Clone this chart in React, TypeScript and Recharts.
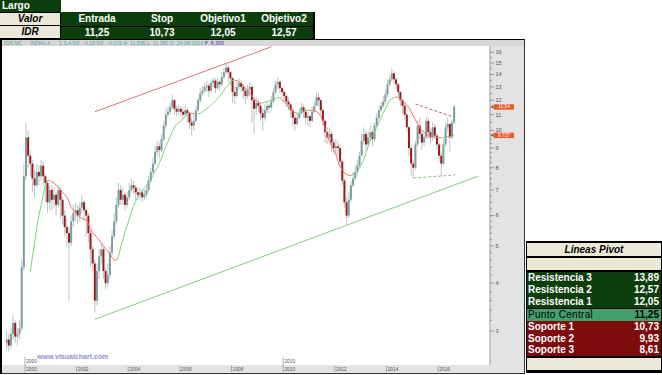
import React from 'react';
import { ComposedChart, Bar, Line, XAxis, YAxis, ReferenceLine } from 'recharts';

// ---------- data ----------
const START_YEAR = 1999;
const START_MONTH = 3; // April (0-based)
const FIRST_OPEN = 2.8;

// monthly closes, Apr 1999 .. Aug 2016
const closes = [
  2.85, 2.75, 2.95, 3.15, 2.9, 2.95, 3.05, 4.4, 7.6,
  9.6, 8.6, 8.2, 7.5, 7.2, 7.8, 7.6, 8.1, 7.6, 7.3, 6.5, 7.0,
  6.6, 6.8, 6.4, 7.0, 6.6, 6.0, 5.6, 5.4, 5.1, 5.8, 6.1, 6.2,
  6.0, 6.3, 6.5, 6.2, 6.0, 5.4, 4.9, 4.5, 3.6, 4.3, 4.7, 4.9,
  4.3, 4.0, 4.2, 4.8, 5.3, 5.8, 6.4, 7.0, 6.6, 6.8, 6.4, 6.7,
  7.0, 7.2, 7.1, 6.9, 6.8, 6.9, 6.7, 6.8, 7.0, 7.4, 7.8, 8.2,
  8.8, 9.1, 8.9, 9.5, 10.3, 11.0, 11.2, 11.5, 12.0, 11.4, 11.2, 11.4,
  11.2, 11.0, 11.3, 11.1, 10.5, 10.3, 10.6, 11.3, 12.0, 12.5, 12.7, 13.0,
  13.1, 12.7, 13.3, 13.5, 12.9, 13.4, 13.2, 13.8, 14.2, 14.6, 14.2, 13.7,
  12.6, 12.3, 13.0, 13.3, 13.0, 12.7, 12.3, 12.8, 13.0, 12.0, 11.4, 11.8,
  11.6, 11.1, 10.8, 11.3, 11.6, 11.5, 11.9, 12.6, 13.2, 13.4, 12.9, 12.6,
  12.3, 11.9, 11.7, 11.3, 10.8, 10.4, 10.8, 11.1, 11.5, 11.2, 10.8, 10.9,
  10.6, 11.2, 11.6, 12.2, 12.0, 11.3, 10.6, 9.9, 9.6, 9.8, 9.3, 9.0,
  9.1, 9.0, 8.3, 7.4, 6.5, 6.0, 6.6, 7.2, 7.5, 7.8, 8.1, 8.6,
  9.4, 9.8, 9.2, 9.6, 9.9, 9.5, 10.3, 10.8, 11.3, 11.6, 11.9, 12.4,
  13.2, 13.6, 14.1, 13.6, 13.2, 12.6, 12.0, 11.6, 11.0, 10.2, 9.0, 8.2,
  8.0, 9.2, 10.3, 9.8, 9.3, 9.6, 10.6, 9.9, 9.6, 10.2, 9.7, 9.2,
  8.6, 8.2, 9.2, 10.2, 10.4, 9.6, 10.5, 11.54,
];

const highs = [
  3.0, 2.95, 3.05, 3.3, 3.2, 3.05, 3.2, 4.6, 8.2,
  10.5, 10.0, 8.9, 8.4, 7.9, 8.2, 8.1, 8.4, 8.3, 7.7, 7.4, 7.2,
  7.2, 7.1, 6.9, 7.2, 7.1, 6.7, 6.2, 5.9, 5.6, 6.0, 6.4, 6.5,
  6.4, 6.5, 6.8, 6.6, 6.3, 6.1, 5.5, 5.0, 4.6, 4.5, 4.9, 5.1,
  5.0, 4.4, 4.5, 5.0, 5.5, 6.1, 6.7, 7.3, 7.2, 7.1, 6.9, 6.9,
  7.3, 7.5, 7.4, 7.2, 7.1, 7.1, 7.0, 7.0, 7.2, 7.6, 8.0, 8.5,
  9.1, 9.4, 9.3, 9.8, 10.6, 11.4, 11.6, 11.8, 12.4, 12.1, 11.6, 11.7,
  11.6, 11.5, 11.6, 11.5, 11.2, 10.8, 11.0, 11.6, 12.2, 12.9, 13.1, 13.3,
  13.5, 13.3, 13.6, 13.8, 13.7, 13.7, 13.6, 14.2, 14.6, 15.0, 14.8, 14.3,
  13.8, 13.0, 13.4, 13.7, 13.5, 13.2, 12.9, 13.2, 13.4, 13.2, 12.3, 12.2,
  12.1, 11.8, 11.4, 11.7, 11.9, 11.8, 12.3, 12.9, 13.5, 13.8, 13.5, 13.0,
  12.8, 12.5, 12.2, 11.8, 11.5, 11.0, 11.1, 11.4, 11.8, 11.7, 11.4, 11.2,
  11.0, 11.5, 11.9, 12.6, 12.5, 12.1, 11.4, 10.7, 10.2, 10.2, 10.0, 9.5,
  9.5, 9.4, 9.2, 8.4, 7.5, 6.7, 6.9, 7.4, 7.8, 8.1, 8.4, 8.8,
  9.8, 10.2, 10.0, 10.0, 10.3, 10.1, 10.5, 11.1, 11.6, 11.9, 12.3, 12.8,
  13.6, 13.9, 14.5, 14.3, 13.8, 13.3, 12.7, 12.1, 11.8, 11.1, 10.3, 9.2,
  8.4, 9.4, 10.6, 10.8, 10.0, 9.9, 10.9, 10.8, 10.1, 10.5, 10.4, 9.8,
  9.3, 8.8, 9.5, 10.5, 10.8, 10.5, 10.7, 11.7,
];

const lows = [
  2.7, 2.65, 2.7, 2.85, 2.8, 2.75, 2.85, 3.0, 4.3,
  7.4, 8.0, 7.6, 6.9, 6.7, 7.1, 7.2, 7.4, 7.2, 6.5, 6.1, 6.2,
  6.2, 6.3, 6.0, 6.3, 5.9, 5.7, 5.3, 5.0, 3.6, 5.0, 5.6, 5.8,
  5.7, 5.8, 6.1, 5.8, 5.3, 5.1, 4.4, 4.3, 3.35, 3.5, 4.1, 4.5,
  4.1, 3.85, 3.9, 4.1, 4.7, 5.2, 5.7, 6.3, 6.4, 6.4, 6.2, 6.3,
  6.6, 6.9, 6.8, 6.6, 6.6, 6.6, 6.5, 6.6, 6.7, 6.9, 7.3, 7.7,
  8.1, 8.6, 8.5, 8.8, 9.4, 10.1, 10.8, 11.0, 11.3, 11.0, 10.9, 11.0,
  10.9, 10.7, 10.9, 10.5, 10.1, 9.7, 10.0, 10.5, 11.2, 11.8, 12.3, 12.5,
  12.6, 12.2, 12.5, 13.0, 12.5, 12.8, 12.7, 13.0, 13.6, 14.0, 13.4, 13.1,
  11.8, 11.7, 12.2, 12.8, 12.6, 12.1, 11.7, 12.1, 12.3, 10.5, 9.8, 11.0,
  11.2, 10.6, 10.0, 10.6, 11.1, 11.1, 11.3, 11.8, 12.5, 12.8, 12.5, 12.2,
  11.9, 11.5, 11.3, 10.8, 10.3, 10.0, 10.3, 10.7, 11.0, 10.8, 10.4, 10.3,
  10.2, 10.5, 11.1, 11.6, 11.6, 11.0, 10.3, 9.3, 9.2, 9.3, 8.8, 8.7,
  8.6, 8.6, 8.1, 7.2, 6.3, 5.7, 5.9, 6.5, 7.1, 7.4, 7.6, 8.0,
  8.6, 9.2, 8.9, 9.1, 9.4, 9.1, 9.4, 10.2, 10.7, 11.2, 11.4, 11.7,
  12.2, 13.0, 13.4, 13.2, 12.8, 12.2, 11.6, 11.1, 10.7, 9.9, 8.6, 7.6,
  7.5, 7.9, 9.1, 9.5, 8.9, 9.1, 9.5, 9.5, 9.2, 9.4, 9.5, 8.9,
  8.3, 7.6, 8.1, 9.1, 9.9, 8.8, 9.5, 10.4,
];

const movingAverage: (number | null)[] = [
  null, null, null, null, null, null, null, null, null,
  null, null, 4.3, 4.7, 5.1, 5.6, 6.0, 6.4, 6.8, 7.2, 7.43, 7.4,
  7.35, 7.3, 7.2, 7.13, 7.0, 6.9, 6.8, 6.7, 6.5, 6.3, 6.2, 6.1,
  6.0, 5.95, 5.9, 5.87, 5.85, 5.7, 5.55, 5.4, 5.35, 5.25, 5.18, 5.1,
  5.0, 4.9, 4.85, 4.75, 4.67, 4.6, 4.58, 4.7, 4.97, 5.2, 5.45, 5.65,
  5.9, 6.15, 6.35, 6.55, 6.71, 6.85, 6.95, 7.1, 7.2, 7.3, 7.45, 7.65,
  7.85, 8.0, 8.25, 8.5, 8.8, 9.1, 9.35, 9.65, 9.95, 10.2, 10.4, 10.5,
  10.6, 10.75, 10.9, 11.05, 11.12, 11.1, 11.08, 11.05, 11.05, 11.1, 11.2, 11.3,
  11.4, 11.5, 11.65, 11.8, 11.95, 12.1, 12.25, 12.5, 12.75, 13.0, 13.2, 13.35,
  13.5, 13.55, 13.5, 13.4, 13.3, 13.1, 12.9, 12.7, 12.5, 12.3, 12.1, 11.95,
  11.85, 11.8, 11.8, 11.87, 11.9, 11.95, 12.0, 12.05, 12.1, 12.2, 12.2, 12.0,
  11.9, 11.7, 11.5, 11.35, 11.25, 11.15, 11.1, 11.1, 11.2, 11.25, 11.3, 11.3,
  11.3, 11.28, 11.25, 11.2, 11.1, 10.9, 10.5, 10.1, 9.7, 9.4, 9.1, 8.9,
  8.7, 8.3, 8.03, 7.9, 7.75, 7.68, 7.65, 7.63, 7.7, 7.75, 7.8, 8.0,
  8.2, 8.4, 8.75, 9.1, 9.45, 9.7, 9.95, 10.2, 10.5, 10.85, 11.1, 11.4,
  11.7, 12.0, 12.1, 12.2, 12.23, 12.2, 12.1, 12.0, 11.8, 11.6, 11.5, 11.2,
  10.9, 10.65, 10.4, 10.2, 10.0, 9.9, 9.8, 9.7, 9.68, 9.65, 9.62, 9.6,
  9.58, 9.57, 9.6, 9.62, 9.64, 9.63, 9.67, 9.727,
];

const xTicks = [2000, 2002, 2004, 2006, 2008, 2010, 2012, 2014, 2016];
const yMajorTicks = [3, 4, 5, 6, 7, 8, 9, 10, 11, 12, 13, 14, 15, 16];
const lastPrice = 11.54;
const lastAverage = 9.727;

const channelTop = [{ x: 2002.71, y: 11.2 }, { x: 2009.55, y: 16.55 }];
const channelBottom = [{ x: 2002.71, y: 3.22 }, { x: 2017.56, y: 7.61 }];
const triangleTop = [{ x: 2015.12, y: 11.73 }, { x: 2016.59, y: 10.85 }];
const triangleBottom = [{ x: 2015.04, y: 7.52 }, { x: 2016.67, y: 7.66 }];

const tradeHeaders = ['Entrada', 'Stop', 'Objetivo1', 'Objetivo2'];
const tradeValues = ['11,25', '10,73', '12,05', '12,57'];
const pivotLabels = ['Resistencia 3', 'Resistencia 2', 'Resistencia 1', 'Punto Central', 'Soporte 1', 'Soporte 2', 'Soporte 3'];
const pivotValues = ['13,89', '12,57', '12,05', '11,25', '10,73', '9,93', '8,61'];

// ---------- derived table ----------
const data = closes.map((c, i) => {
  const m = START_MONTH + i;
  const t = START_YEAR + Math.floor(m / 12) + ((m % 12) + 0.5) / 12;
  const open = i === 0 ? FIRST_OPEN : closes[i - 1];
  return { t, open, close: c, high: highs[i], low: lows[i], range: [lows[i], highs[i]], ma: movingAverage[i] };
});
const segUp = (i: number) => {
  const a = movingAverage[i], b = movingAverage[i + 1];
  if (a == null || b == null) return null;
  return b >= a;
};
data.forEach((d: any, i) => {
  const prev = i > 0 ? segUp(i - 1) : null;
  const next = i < data.length - 1 ? segUp(i) : null;
  d.maUp = d.ma != null && (prev === true || next === true) ? d.ma : null;
  d.maDown = d.ma != null && (prev === false || next === false) ? d.ma : null;
});

const yTicks: number[] = [];
yMajorTicks.forEach((v, i) => {
  yTicks.push(v);
  if (i < yMajorTicks.length - 1) {
    const step = v >= 10 ? 0.5 : v >= 6 ? 0.25 : 0.2;
    for (let s = v + step; s < yMajorTicks[i + 1] - 1e-6; s += step) yTicks.push(Math.round(s * 100) / 100);
  }
});

// ---------- styling ----------
const FONT = '"Liberation Sans", Arial, sans-serif';
const DARK_GREEN = '#0c3e0c';
const BEIGE = '#ece8d8';
const DARK_RED = '#7d0b0b';
const MID_GREEN = '#43a06d';

const Candle = (props: any) => {
  const { x, y, width, height, payload } = props;
  if (!payload || x == null || y == null) return null;
  const yTop = Math.min(y, y + height);
  const h = Math.abs(height);
  const { open, close, high, low } = payload;
  const lh = Math.log(high), ll = Math.log(low);
  const span = lh - ll || 1;
  const py = (v: number) => yTop + (h * (lh - Math.log(v))) / span;
  const cx = x + width / 2;
  const top = py(Math.max(open, close));
  const bottom = py(Math.min(open, close));
  const up = close >= open;
  return (
    <g>
      <line x1={cx} x2={cx} y1={yTop} y2={yTop + h} stroke="#b8c5c5" strokeWidth={1} />
      <rect x={x} y={top} width={width} height={Math.max(0.8, bottom - top)} fill={up ? '#7b9d9d' : '#9a1a1a'} />
    </g>
  );
};

const XTick = (props: any) => {
  const { x, y, payload } = props;
  const v = payload.value;
  const decade = v % 10 === 0;
  return (
    <g fontFamily={FONT} fontSize={4.8} fill="#555">
      <line x1={x} x2={x} y1={decade ? y - 8 : y + 1} y2={y + 7} stroke="#777" strokeWidth={0.6} />
      <text x={x + 1.2} y={y + 6.2}>{v}</text>
      {decade && <text x={x + 1.2} y={y - 2}>{v}</text>}
    </g>
  );
};

const YTick = (props: any) => {
  const { x, y, payload } = props;
  const v = payload.value;
  const major = Number.isInteger(v);
  return (
    <g>
      <line x1={x} x2={x + (major ? 4 : 2)} y1={y} y2={y} stroke="#777" strokeWidth={0.7} />
      {major && (
        <text x={x + 5.5} y={y + 1.8} fontSize={5.6} fill="#555" fontFamily={FONT}>{v}</text>
      )}
    </g>
  );
};

const PriceBox = (text: string) => (props: any) => {
  const { viewBox } = props;
  if (!viewBox) return null;
  const x = viewBox.x + viewBox.width;
  const y = viewBox.y;
  return (
    <g>
      <path d={`M${x + 1},${y} L${x + 3.5},${y - 2} L${x + 3.5},${y + 2} Z`} fill="#555" />
      <rect x={x + 4} y={y - 2.5} width={20} height={5.4} fill="#ee5a26" />
      <text x={x + 14} y={y + 1.7} fontSize={4.8} fill="#fff" textAnchor="middle" fontFamily={FONT}>{text}</text>
    </g>
  );
};

const cellCenters = [97, 162, 223, 284];

export default function App() {
  return (
    <div style={{ position: 'absolute', left: 0, top: 0, width: 662, height: 375, background: '#fff', overflow: 'hidden', fontFamily: FONT }}>
      {/* top trade table */}
      <div style={{ position: 'absolute', left: 0, top: 0, width: 61, height: 12, background: DARK_GREEN, color: '#fff', fontWeight: 'bold', fontSize: 10, lineHeight: '12px', paddingLeft: 2, boxSizing: 'border-box' }}>Largo</div>
      <div style={{ position: 'absolute', left: 0, top: 12, width: 315, height: 28, background: '#000' }} />
      <div style={{ position: 'absolute', left: 0, top: 13, width: 60, height: 12, background: BEIGE, fontStyle: 'italic', fontWeight: 'bold', fontSize: 10, lineHeight: '12px', textAlign: 'center' }}>Valor</div>
      <div style={{ position: 'absolute', left: 0, top: 26, width: 60, height: 12, background: BEIGE, fontStyle: 'italic', fontWeight: 'bold', fontSize: 10, lineHeight: '12px', textAlign: 'center' }}>IDR</div>
      <div style={{ position: 'absolute', left: 61, top: 12, width: 252, height: 14, background: DARK_GREEN }} />
      <div style={{ position: 'absolute', left: 61, top: 26.5, width: 252, height: 12, background: DARK_GREEN }} />
      {tradeHeaders.map((h, i) => (
        <div key={h} style={{ position: 'absolute', left: cellCenters[i] - 35, width: 70, top: 13, height: 12, lineHeight: '12px', color: '#fff', fontWeight: 'bold', fontSize: 10, textAlign: 'center' }}>{h}</div>
      ))}
      {tradeValues.map((v, i) => (
        <div key={i} style={{ position: 'absolute', left: cellCenters[i] - 35, width: 70, top: 26.5, height: 12, lineHeight: '12px', color: '#fff', fontWeight: 'bold', fontSize: 10, textAlign: 'center' }}>{v}</div>
      ))}

      {/* chart panel */}
      <div style={{ position: 'absolute', left: 0, top: 39, width: 525, height: 335, boxSizing: 'border-box', borderTop: '1px solid #000', borderLeft: '2px solid #000', borderRight: '1px solid #333', borderBottom: '1px solid #333', background: '#e3e3e3' }} />
      <div style={{ position: 'absolute', left: 2, top: 40, width: 522, height: 6, background: '#d8d8d8' }} />
      <div style={{ position: 'absolute', left: 2, top: 46, width: 488, height: 319, background: '#fff' }} />
      <div style={{ position: 'absolute', left: 4, top: 39.5, fontSize: 5.2, lineHeight: '7px', color: '#5e9e9e', whiteSpace: 'pre' }}>
        {'IDR.MC  -  INDRA A  -   1 S A Dif.: -0,15 Dif.: -0,015 H: 11,595 L: 11,380 O: 26-08-2016 '}
        <span style={{ color: '#3a3aa8' }}>P: 8,300</span>
      </div>

      <div style={{ position: 'absolute', left: 0, top: 39 }}>
        <ComposedChart width={525} height={334} data={data} margin={{ top: 7, right: 0, bottom: 0, left: 2 }}>
          <XAxis dataKey="t" type="number" domain={[1999.11, 2018.01]} allowDataOverflow ticks={xTicks} interval={0}
            height={8} tickSize={0} tickMargin={0} tickLine={false} axisLine={false} tick={<XTick />} />
          <YAxis orientation="right" scale="log" domain={[2.446, 16.62]} allowDataOverflow ticks={yTicks} interval={0}
            width={35} tickSize={0} tickMargin={0} tickLine={false} axisLine={{ stroke: '#9c9c9c' }} tick={<YTick />} />
          <ReferenceLine segment={channelTop} stroke="#d27a7a" strokeWidth={1} ifOverflow="hidden" />
          <ReferenceLine segment={channelBottom} stroke="#86c886" strokeWidth={1} ifOverflow="hidden" />
          <Bar dataKey="range" barSize={2} shape={<Candle />} isAnimationActive={false} />
          <Line dataKey="maUp" stroke="#7fd07f" strokeWidth={1} dot={false} connectNulls={false} isAnimationActive={false} />
          <Line dataKey="maDown" stroke="#ff6f6f" strokeWidth={1} dot={false} connectNulls={false} isAnimationActive={false} />
          <ReferenceLine segment={triangleTop} stroke="#b46a6a" strokeWidth={1} strokeDasharray="3 2" />
          <ReferenceLine segment={triangleBottom} stroke="#86c486" strokeWidth={1} strokeDasharray="3 2" />
          <ReferenceLine y={lastPrice} stroke="none" label={PriceBox('11.54')} />
          <ReferenceLine y={lastAverage} stroke="none" label={PriceBox('9.727')} />
        </ComposedChart>
      </div>
      <div style={{ position: 'absolute', left: 37, top: 352.5, fontSize: 7, fontWeight: 'bold', color: '#9090cc', lineHeight: '8px' }}>www.visualchart.com</div>

      {/* pivot table */}
      <div style={{ position: 'absolute', left: 526, top: 241, width: 136, height: 132, background: '#000' }} />
      <div style={{ position: 'absolute', left: 527, top: 243, width: 134, height: 13, background: BEIGE, fontStyle: 'italic', fontWeight: 'bold', fontSize: 10, lineHeight: '13px', textAlign: 'center' }}>Lineas Pivot</div>
      <div style={{ position: 'absolute', left: 527, top: 258, width: 134, height: 12, background: BEIGE }} />
      <div style={{ position: 'absolute', left: 527, top: 272, width: 134, height: 36, background: DARK_GREEN }} />
      <div style={{ position: 'absolute', left: 527, top: 308.5, width: 134, height: 12, background: MID_GREEN }} />
      <div style={{ position: 'absolute', left: 527, top: 321, width: 134, height: 34.5, background: DARK_RED }} />
      <div style={{ position: 'absolute', left: 527, top: 357.5, width: 134, height: 12.5, background: BEIGE }} />
      <div style={{ position: 'absolute', left: 589, top: 309, width: 0, height: 0, borderTop: '3px solid #1a7a1a', borderLeft: '3px solid transparent' }} />
      {pivotLabels.map((l, i) => {
        const tops = [272, 284, 296, 308.5, 321, 332.5, 344];
        const central = i === 3;
        return (
          <div key={l} style={{ position: 'absolute', left: 528, top: tops[i], width: 131, height: 12, lineHeight: '12px', fontSize: 10, color: central ? '#000' : '#fff' }}>
            <span style={{ fontWeight: central ? 'normal' : 'bold', letterSpacing: central ? 0.3 : 0 }}>{l}</span>
            <span style={{ position: 'absolute', right: 0, fontWeight: 'bold' }}>{pivotValues[i]}</span>
          </div>
        );
      })}
    </div>
  );
}
